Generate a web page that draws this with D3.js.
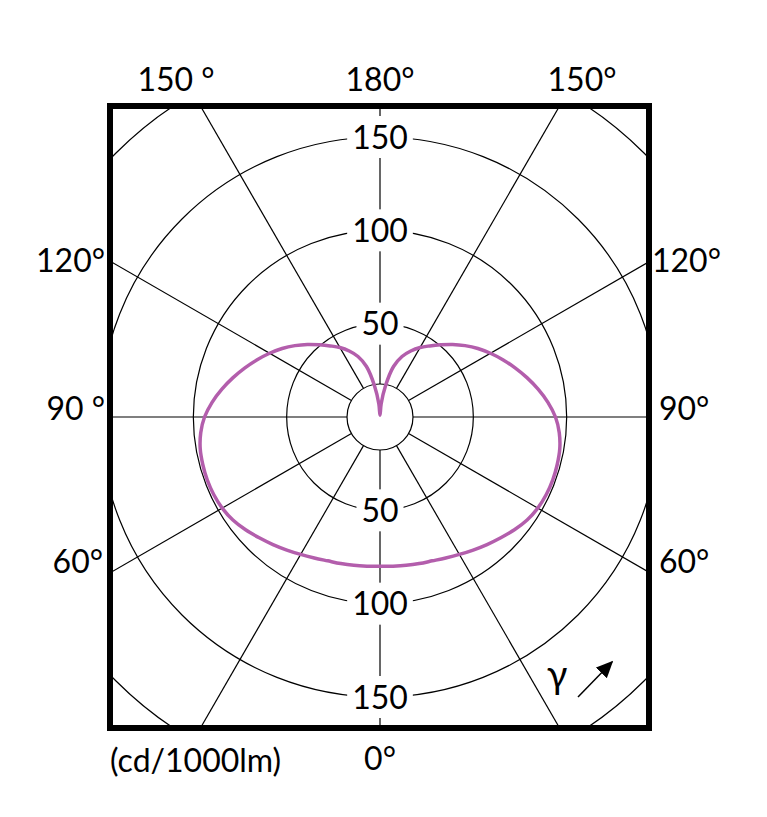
<!DOCTYPE html>
<html>
<head>
<meta charset="utf-8">
<script src="https://cdn.jsdelivr.net/npm/d3@7"></script>
<style>
  body { margin: 0; background: #fff; }
  text { font-family: Lato, "Noto Sans", sans-serif; fill: #000; }
</style>
</head>
<body>
<div id="chart"></div>
<script>
// luminous intensity, cd/1000lm, for gamma 0..180 (mirrored both sides)
var gammas = [0, 5, 10, 15, 20, 25, 30, 35, 40, 45, 50, 55, 60, 65, 70, 75, 80, 85, 90,
              95, 100, 105, 110, 115, 120, 125, 130, 135, 140, 145, 150, 155, 160, 165, 170, 175, 180];
var intensity = [80, 80.2, 80.7, 81.3, 82, 83.3, 85, 87, 89.2, 91.5, 94, 96.2, 97.6, 98.3, 98.5, 98.3, 97.8, 96.4, 94,
                 90.3, 86, 81.5, 77, 72.6, 68.3, 64, 59.5, 55, 50.5, 46.5, 43, 39, 34.5, 28, 17, 7, 1];
var rings = [50, 100, 150, 200];
var ringLabels = [50, 100, 150];
var spokes = [0, 30, 60, 90, 120, 150, 180];
var unitLabel = "(cd/1000lm)";

var W = 767, H = 817;
var cx = 380, cy = 417;
var frame = {x0: 110, y0: 106, x1: 649, y1: 728};
var innerR = 33;

var svg = d3.select("#chart").append("svg")
    .attr("width", W)
    .attr("height", H);

var r = d3.scaleLinear().domain([0, 150]).range([0, 280]);
var rad = function(g) { return g * Math.PI / 180; };

var defs = svg.append("defs");
defs.append("clipPath").attr("id", "clip")
  .append("rect")
    .attr("x", frame.x0 - cx).attr("y", frame.y0 - cy)
    .attr("width", frame.x1 - frame.x0).attr("height", frame.y1 - frame.y0);

var g = svg.append("g").attr("transform", "translate(" + cx + "," + cy + ")");
var grid = g.append("g").attr("clip-path", "url(#clip)");

// circles
grid.selectAll("circle.ring")
  .data(rings)
  .enter().append("circle")
    .attr("class", "ring")
    .attr("r", function(d) { return r(d); })
    .attr("fill", "none")
    .attr("stroke", "#000")
    .attr("stroke-width", 1.2);

// spokes, gamma measured from straight down, both sides
var spokeAngles = [];
spokes.forEach(function(s) {
  spokeAngles.push(s);
  if (s > 0 && s < 180) spokeAngles.push(-s);
});
grid.selectAll("line.spoke")
  .data(spokeAngles)
  .enter().append("line")
    .attr("class", "spoke")
    .attr("x1", function(d) { return innerR * Math.sin(rad(d)); })
    .attr("y1", function(d) { return innerR * Math.cos(rad(d)); })
    .attr("x2", function(d) { return 600 * Math.sin(rad(d)); })
    .attr("y2", function(d) { return 600 * Math.cos(rad(d)); })
    .attr("stroke", "#000")
    .attr("stroke-width", 1.2);

// centre circle
g.append("circle")
  .attr("r", innerR)
  .attr("fill", "#fff")
  .attr("stroke", "#000")
  .attr("stroke-width", 1.2);

// ring value labels, above and below the centre
var lab = g.selectAll("g.rl")
  .data(ringLabels.map(function(d) { return {v: d, s: -1}; })
    .concat(ringLabels.map(function(d) { return {v: d, s: 1}; })))
  .enter().append("g")
    .attr("class", "rl")
    .attr("transform", function(d) { return "translate(0," + (d.s * r(d.v)) + ")"; });
var labText = lab.append("text")
  .attr("text-anchor", "middle")
  .attr("dy", "0.36em")
  .attr("font-size", 32)
  .text(function(d) { return d.v; });
labText.each(function() {
  var b = this.getBBox();
  d3.select(this.parentNode).insert("rect", "text")
    .attr("x", b.x - 5).attr("y", -21)
    .attr("width", b.width + 10).attr("height", 42)
    .attr("fill", "#fff");
});

// intensity curve
var pts = [];
gammas.forEach(function(gm, i) { pts.push([Math.PI - rad(gm), r(intensity[i])]); });
for (var i = gammas.length - 2; i > 0; i--) {
  pts.push([rad(gammas[i]) - Math.PI, r(intensity[i])]);
}
g.append("path")
  .datum(pts)
  .attr("fill", "none")
  .attr("stroke", "#b35eac")
  .attr("stroke-width", 3.5)
  .attr("stroke-linejoin", "round")
  .attr("d", d3.lineRadial()
    .angle(function(d) { return d[0]; })
    .radius(function(d) { return d[1]; })
    .curve(d3.curveCatmullRomClosed.alpha(0.5)));

// frame
svg.append("rect")
  .attr("x", frame.x0).attr("y", frame.y0)
  .attr("width", frame.x1 - frame.x0).attr("height", frame.y1 - frame.y0)
  .attr("fill", "none")
  .attr("stroke", "#000")
  .attr("stroke-width", 6);

// angle labels around the frame
var angleLabels = [
  {t: "150 °", x: 176, y: 91, a: "middle"},
  {t: "180°", x: 380, y: 91, a: "middle"},
  {t: "150°", x: 582, y: 91, a: "middle"},
  {t: "120°", x: 105, y: 272, a: "end"},
  {t: "90 °", x: 105, y: 420, a: "end"},
  {t: "60°", x: 103, y: 573, a: "end"},
  {t: "120°", x: 652, y: 272, a: "start"},
  {t: "90°", x: 659, y: 420, a: "start"},
  {t: "60°", x: 659, y: 573, a: "start"},
  {t: "0°", x: 380, y: 770, a: "middle"},
  {t: unitLabel, x: 110, y: 772, a: "start"}
];
svg.selectAll("text.al")
  .data(angleLabels)
  .enter().append("text")
    .attr("class", "al")
    .attr("x", function(d) { return d.x; })
    .attr("y", function(d) { return d.y; })
    .attr("text-anchor", function(d) { return d.a; })
    .attr("font-size", 32)
    .text(function(d) { return d.t; });

// gamma direction marker
svg.append("text")
  .attr("x", 557).attr("y", 688)
  .attr("text-anchor", "middle")
  .attr("font-size", 38)
  .text("γ");
defs.append("marker")
  .attr("id", "arr")
  .attr("viewBox", "0 0 10 10")
  .attr("refX", 9).attr("refY", 5)
  .attr("markerWidth", 17).attr("markerHeight", 17)
  .attr("markerUnits", "userSpaceOnUse")
  .attr("orient", "auto")
  .append("path").attr("d", "M0,0.5L10,5L0,9.5Z").attr("fill", "#000");
svg.append("line")
  .attr("x1", 578).attr("y1", 697)
  .attr("x2", 612).attr("y2", 662)
  .attr("stroke", "#000")
  .attr("stroke-width", 1.5)
  .attr("marker-end", "url(#arr)");
</script>
</body>
</html>
